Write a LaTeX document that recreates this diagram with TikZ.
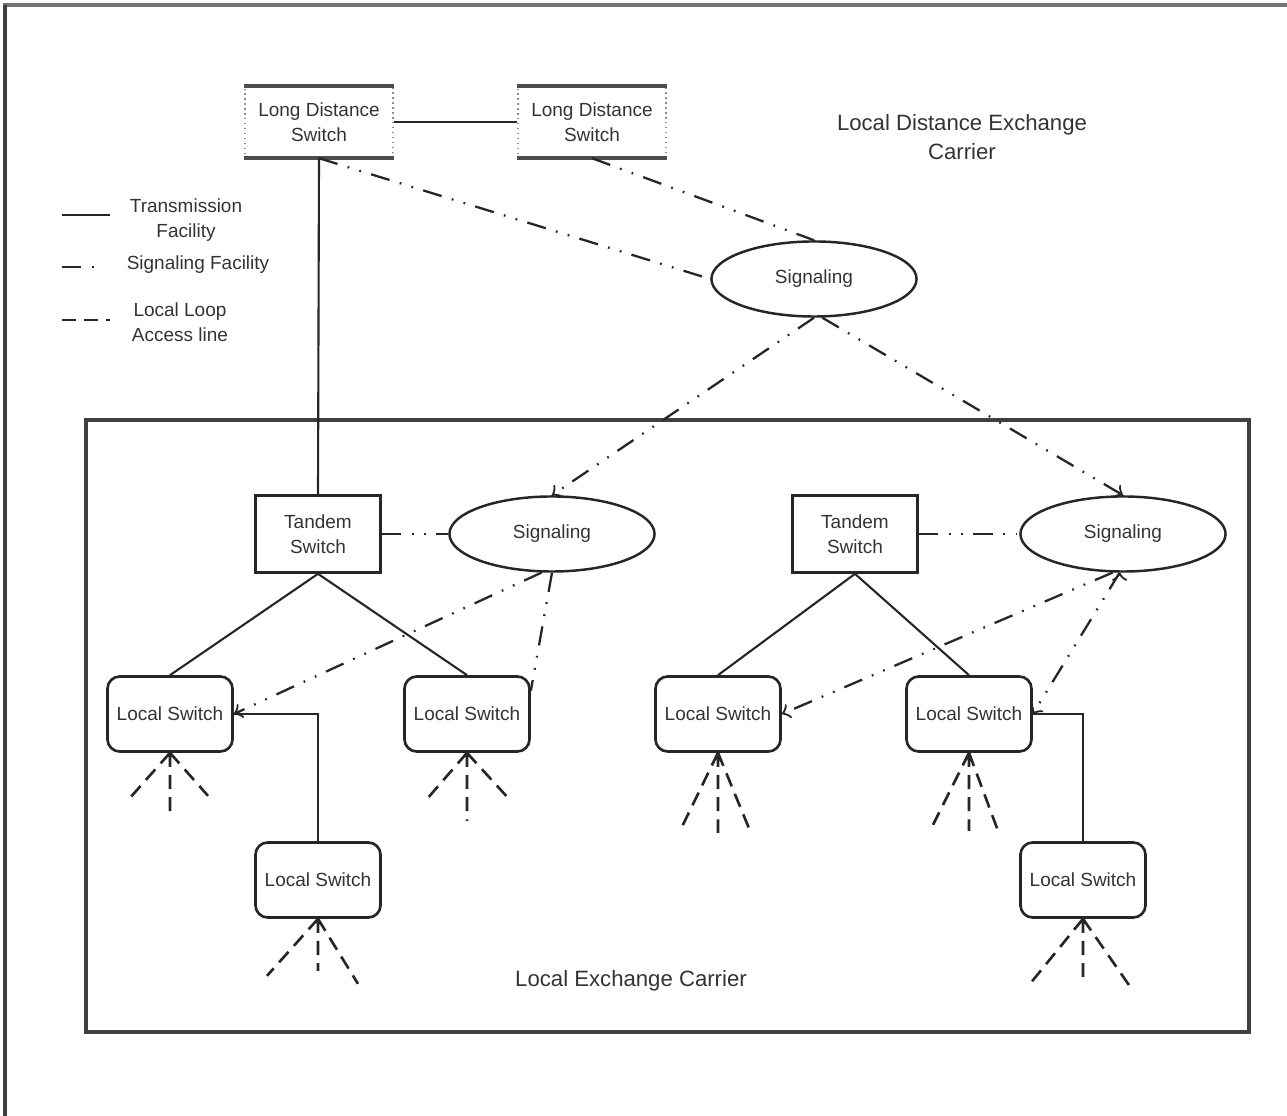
\documentclass[tikz,border=0pt]{standalone}
\usepackage{fontspec}
\setmainfont{Liberation Sans}
\usetikzlibrary{arrows,shapes.geometric,calc}
\tikzset{
    ldswitch/.style = {rectangle,
                    draw=black!45,
                    densely dotted,
                    text=black!80,
                    align=center,
                    inner sep=0pt,
                    minimum width=1.48cm,
                    minimum height=0.71cm,
                    font=\fontsize{5.4}{7.1}\selectfont},
    ldbar/.style =  {draw=black!70,
                    line width=1pt},
    tandem/.style = {rectangle,
                    fill=white,
                    draw=black!85,
                    text=black!80,
                    line width=0.75pt,
                    align=center,
                    inner sep=0pt,
                    minimum width=1.25cm,
                    minimum height=0.77cm,
                    font=\fontsize{5.4}{7.1}\selectfont},
    local/.style =  {rectangle,
                    rounded corners=3.5pt,
                    fill=white,
                    draw=black!85,
                    text=black!80,
                    line width=0.75pt,
                    inner sep=0pt,
                    minimum width=1.25cm,
                    minimum height=0.75cm,
                    font=\fontsize{5.4}{7.1}\selectfont},
    signal/.style = {ellipse,
                    fill=white,
                    draw=black!85,
                    text=black!80,
                    line width=0.7pt,
                    inner sep=0pt,
                    minimum width=2.05cm,
                    minimum height=0.75cm,
                    font=\fontsize{5.4}{7.1}\selectfont},
    caption/.style = {text=black!80,
                    align=center,
                    font=\fontsize{6.3}{8.2}\selectfont},
    legendtext/.style = {text=black!80,
                    align=center,
                    font=\fontsize{5.4}{7}\selectfont},
    -,
    transline/.style = {draw=black!85,
                    line width=0.6pt},
    sigline/.style = {draw=black!85,
                    line width=0.65pt,
                    dash pattern=on 5.5pt off 3pt on 0.5pt off 3pt on 0.5pt off 3pt},
    accessline/.style = {draw=black!85,
                    line width=0.75pt,
                    dash pattern=on 4pt off 2.3pt},
    outerframe/.style = {draw=black!75,
                    line width=0.9pt},
    >=to}

\begin{document}
\begin{tikzpicture}[x=0.01cm, y=-0.01cm]
        \useasboundingbox (0,0) rectangle (1287,1116);
        \draw [outerframe, draw=black!55] (3,5) -- (1287,5);
        \draw [outerframe] (5,5) -- (5,1116);

        % long distance part
        \node[ldswitch]     (lds1) at (319,122)     {Long Distance\\Switch};
        \node[ldswitch]     (lds2) at (592,122)     {Long Distance\\Switch};
        \foreach \s in {lds1,lds2} {
            \draw [ldbar] (\s.north west) -- (\s.north east);
            \draw [ldbar] (\s.south west) -- (\s.south east);
        }
        \node[caption]      (ldec) at (962,137)     {Local Distance Exchange\\Carrier};
        \node[signal]       (topsig) at (814,279)   {Signaling};

        % legend
        \coordinate (legta) at (62,215);  \coordinate (legtb) at (110,215);
        \coordinate (legsa) at (62,267);  \coordinate (legsb) at (100,267);
        \coordinate (legla) at (62,320);  \coordinate (leglb) at (110,320);
        \draw [transline] (legta) -- (legtb);
        \draw [sigline] (legsa) -- (legsb);
        \draw [accessline] (legla) -- (leglb);
        \node[legendtext]   (legt) at (186,220)     {Transmission\\Facility};
        \node[legendtext]   (legs) at (198,265)     {Signaling Facility};
        \node[legendtext]   (legl) at (180,322)     {Local Loop\\Access line};

        % local exchange carrier
        \draw [outerframe] (86,420) rectangle (1249,1032);
        \node[caption]      (lec) at (631,981)      {Local Exchange Carrier};

        \node[tandem]       (tsw1) at (318,534)     {Tandem\\Switch};
        \node[signal]       (sig1) at (552,534)     {Signaling};
        \node[tandem]       (tsw2) at (855,534)     {Tandem\\Switch};
        \node[signal]       (sig2) at (1123,534)    {Signaling};

        \node[local]        (ls1) at (170,714)      {Local Switch};
        \node[local]        (ls2) at (467,714)      {Local Switch};
        \node[local]        (ls3) at (718,714)      {Local Switch};
        \node[local]        (ls4) at (969,714)      {Local Switch};
        \node[local]        (ls5) at (318,880)      {Local Switch};
        \node[local]        (ls6) at (1083,880)     {Local Switch};

        % transmission
        \path [transline]   (lds1) edge (lds2)
                            (lds1.south) edge (tsw1.north)
                            (tsw1.south) edge (ls1.north)
                            (tsw1.south) edge (ls2.north)
                            (tsw2.south) edge (ls3.north)
                            (tsw2.south) edge (ls4.north);
        \draw [transline] (ls5.north) |- (ls1.east);
        \draw [transline] (ls6.north) |- (ls4.east);

        % signaling
        \path [sigline]     (lds1.south) edge (topsig.west)
                            (lds2.south) edge (topsig.north)
                            (tsw1.east) edge (sig1.west)
                            (tsw2.east) edge (sig2.west)
                            (sig1.south) edge (ls2.20);
        \path [sigline,->]  (topsig.south) edge (sig1.north)
                            (topsig.-78) edge (sig2.north)
                            (sig1.-105) edge (ls1.east)
                            (sig2.-105) edge (ls3.east)
                            (sig2.-95) edge (ls4.east);

        % local loops
        \foreach \s/\lx/\ly/\my/\rx/\ry in {ls1/-40/45/65/38/43, ls2/-39/45/68/41/45,
                ls3/-38/78/80/32/78, ls4/-39/78/78/29/78,
                ls5/-51/57/52/40/65, ls6/-53/65/65/50/72} {
            \path (\s.south) ++(\lx,\ly) coordinate (\s-l)
                  (\s.south) ++(0,\my) coordinate (\s-m)
                  (\s.south) ++(\rx,\ry) coordinate (\s-r);
            \draw [accessline] (\s.south) -- (\s-l)
                               (\s.south) -- (\s-m)
                               (\s.south) -- (\s-r);
        }
\end{tikzpicture}
\end{document}
